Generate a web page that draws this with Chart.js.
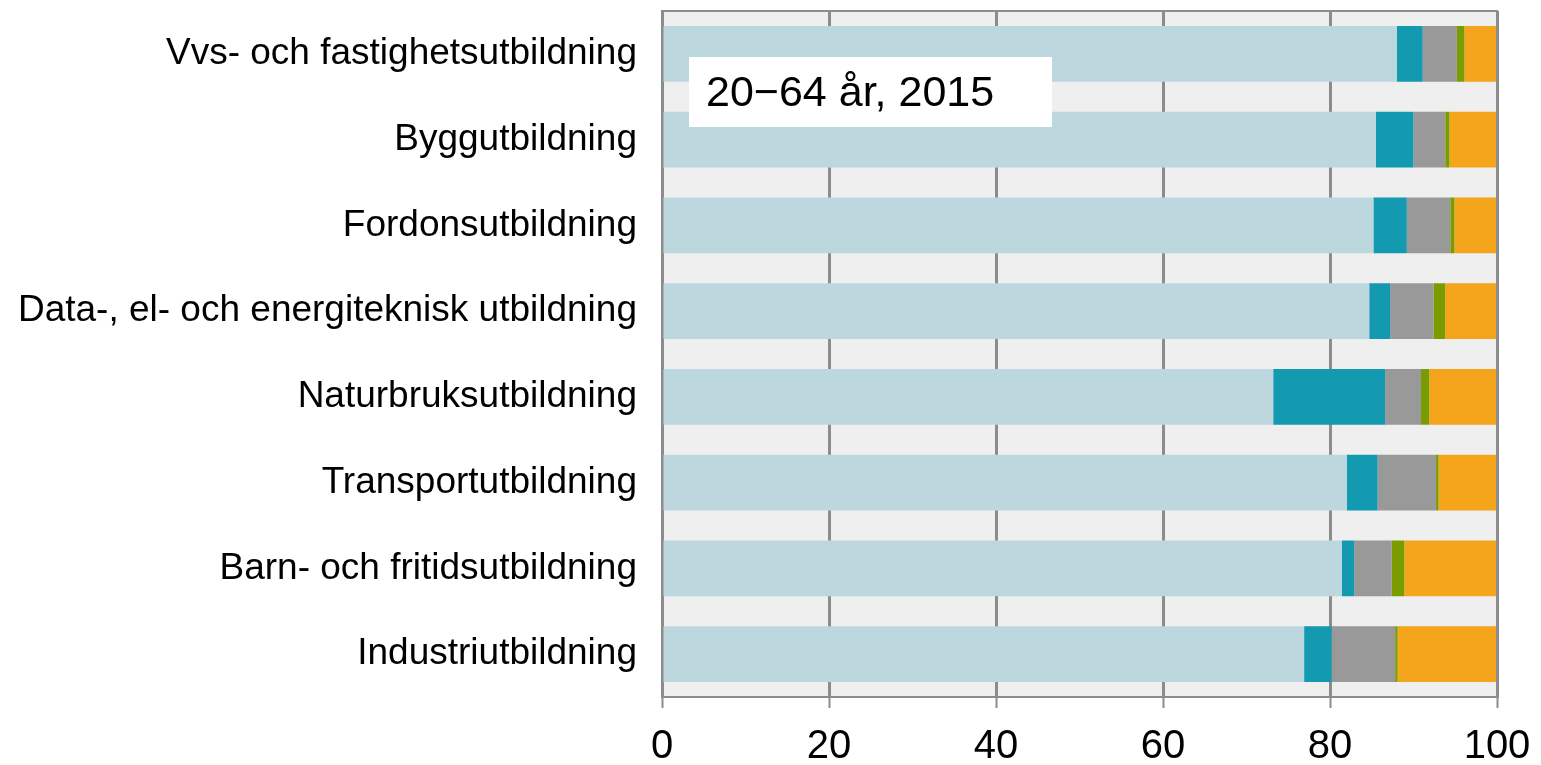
<!DOCTYPE html>
<html>
<head>
<meta charset="utf-8">
<script src="https://cdn.jsdelivr.net/npm/chart.js@4/dist/chart.umd.min.js"></script>
<style>
html,body{margin:0;padding:0;background:#fff;}
#wrap{width:1541px;height:765px;position:relative;}
</style>
</head>
<body>
<div id="wrap"><canvas id="c" width="1541" height="765"></canvas></div>
<script>
const categories = [
  "Vvs- och fastighetsutbildning",
  "Byggutbildning",
  "Fordonsutbildning",
  "Data-, el- och energiteknisk utbildning",
  "Naturbruksutbildning",
  "Transportutbildning",
  "Barn- och fritidsutbildning",
  "Industriutbildning"
];
const series1 = [88.0, 85.5, 85.2, 84.7, 73.2, 82.0, 81.4, 76.9];
const series2 = [3.1, 4.5, 4.0, 2.5, 13.4, 3.7, 1.5, 3.3];
const series3 = [4.1, 3.8, 5.2, 5.2, 4.3, 7.0, 4.5, 7.6];
const series4 = [0.9, 0.5, 0.5, 1.4, 1.0, 0.3, 1.5, 0.3];
const series5 = [3.9, 5.7, 5.1, 6.2, 8.1, 7.0, 11.1, 11.9];
const xTicks = [0, 20, 40, 60, 80, 100];
const boxText = "20\u221264 år, 2015";

const colors = ["#bdd7df", "#1399b0", "#999999", "#7a9c00", "#f4a51c"];
const seriesList = [series1, series2, series3, series4, series5];
const FONT = '"Liberation Sans", Arial, sans-serif';

const bgPlugin = {
  id: 'bg',
  beforeDraw(chart) {
    const {ctx, chartArea: a} = chart;
    ctx.save();
    ctx.fillStyle = '#efefef';
    ctx.fillRect(a.left, a.top, a.right - a.left, a.bottom - a.top);
    ctx.restore();
  },
  afterDraw(chart) {
    const {ctx, chartArea: a} = chart;
    ctx.save();
    ctx.strokeStyle = '#8c8c8c';
    ctx.lineWidth = 2;
    ctx.strokeRect(a.left, a.top, a.right - a.left, a.bottom - a.top);
    const x0 = a.left + 27, y0 = a.top + 46, w = 363, h = 70;
    ctx.fillStyle = '#ffffff';
    ctx.fillRect(x0, y0, w, h);
    ctx.fillStyle = '#000000';
    ctx.font = '43px ' + FONT;
    ctx.textBaseline = 'middle';
    ctx.textAlign = 'left';
    ctx.fillText(boxText, x0 + 17, y0 + h / 2 + 2);
    ctx.restore();
  }
};

new Chart(document.getElementById('c'), {
  type: 'bar',
  data: {
    labels: categories,
    datasets: seriesList.map((s, i) => ({
      data: s,
      backgroundColor: colors[i],
      borderWidth: 0,
      barPercentage: 0.65,
      categoryPercentage: 1.0
    }))
  },
  options: {
    indexAxis: 'y',
    responsive: false,
    animation: false,
    devicePixelRatio: 1,
    layout: {padding: {top: 11, right: 44, bottom: 0, left: 0}},
    plugins: {legend: {display: false}, tooltip: {enabled: false}},
    scales: {
      x: {
        stacked: true,
        min: 0, max: 100,
        afterBuildTicks: (s) => { s.ticks = xTicks.map(v => ({value: v})); },
        afterFit: (s) => { s.height = 68; s.paddingLeft = 0; s.paddingRight = 0; },
        grid: {color: '#8c8c8c', lineWidth: 3, drawTicks: true, tickLength: 11, tickColor: '#8c8c8c', tickWidth: 2},
        border: {display: true, color: '#8c8c8c', width: 2},
        ticks: {color: '#000', font: {family: FONT, size: 40}, padding: 15, maxRotation: 0}
      },
      y: {
        stacked: true,
        afterFit: (s) => { s.width = 662; s.paddingTop = 0; s.paddingBottom = 0; },
        grid: {display: false, drawTicks: false},
        border: {display: true, color: '#8c8c8c', width: 2},
        ticks: {color: '#000', font: {family: FONT, size: 37}, padding: 25}
      }
    }
  },
  plugins: [bgPlugin]
});
</script>
</body>
</html>
